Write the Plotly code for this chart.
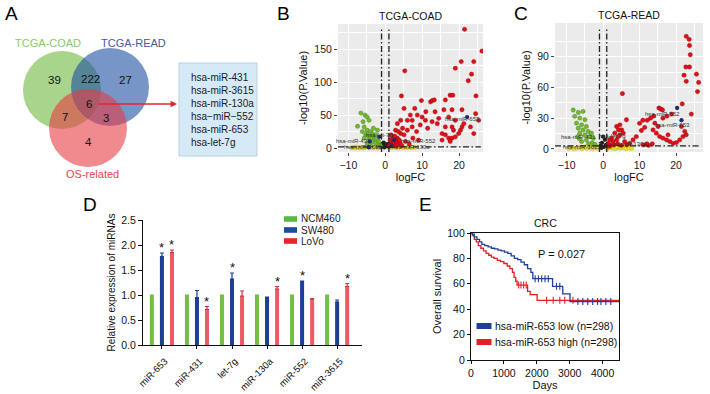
import plotly.graph_objects as go

W, H = 710, 394
FONT = "Arial, 'Liberation Sans', sans-serif"


def px(x):
    return x / W


def py(y):
    return 1 - y / H


# ---------------- Panel A data ----------------
venn_sets = ["TCGA-COAD", "TCGA-READ", "OS-related"]
venn_region_labels = ["39", "222", "27", "6", "7", "3", "4"]
common_mirnas = ["hsa-miR-431", "hsa-miR-3615", "hsa-miR-130a",
                 "hsa\u2212miR\u2212552", "hsa-miR-653", "hsa-let-7g"]

# ---------------- Panel B data (TCGA-COAD volcano) ----------------
b_up_x = [21.5, 26.2, 24.0, 20.6, 19.0, 5.3, 23.4, 22.5, 24.6, 17.6, 18.3, 16.3, 12.3, 12.7, 13.3, 9.8, 4.4, 5.1,
          3.3, 4.2, 6.0, 7.3, 8.7, 10.0, 10.9, 12.7, 14.1, 7.3, 6.0, 2.8, 4.2, 5.1, 2.4, 3.3, 1.5, 1.9, 2.8, 1.1,
          1.2, 1.5, 1.8, 2.0, 2.2, 2.5, 2.8, 3.0, 1.3, 2.0, 3.5, 4.0, 4.5, 3.8, 2.6, 1.6, 5.5, 6.5, 7.5, 8.5,
          9.0, 4.7, 3.6, 9.5, 11.5, 13.5, 11.0, 8.0, 14.5, 6.8,
          15.4, 16.3, 17.2, 18.1, 19.0, 19.9, 20.4, 20.8, 21.3, 19.0, 18.1, 16.3, 17.2, 15.9, 18.1, 20.8, 18.5,
          15.4, 17.6, 23.1, 24.0, 25.3, 24.5]
b_up_y = [180, 147, 131, 131, 121, 117, 112, 102, 79, 80, 80, 73, 70, 72, 73, 72, 79, 60,
          37, 42, 42, 42, 50, 47, 42, 40, 37, 32, 27, 27, 22, 20, 17, 15, 10, 7, 12, 4.5,
          3, 5, 8, 4, 10, 6, 3, 9, 12, 14, 5, 8, 4, 12, 18, 20, 10, 6, 15, 25,
          12, 30, 25, 35, 30, 55, 55, 60, 45, 50,
          22, 20, 15, 15, 17, 22, 27, 32, 37, 42, 32, 32, 47, 58, 58, 58, 27,
          12, 10, 32, 22, 42, 52]
b_down_x = [-6.6, -5.5, -4.9, -4.4, -7.5, -5.7, -4.9, -4.0, -5.3, -4.4, -3.5, -3.0, -2.6, -5.7, -4.4,
            -3.5, -2.6, -4.9, -4.0, -2.1, -2.1, -6.0, -3.2, -1.5, -1.8, -2.4, -3.8, -5.0, -6.2, -1.3]
b_down_y = [53, 50, 47, 42, 33, 32, 27, 25, 20, 17, 22, 15, 20, 15, 12,
            10, 7, 7, 5, 27, 12, 40, 30, 5, 10, 14, 18, 22, 25, 3]
b_ns_x = [-9.0, -8.5, -8.0, -7.2, -6.5, -6.0, -5.5, -5.0, -4.2, -3.8, -3.2, -2.5, -1.8, -1.2, -7.8, -6.8,
          -2.0, 1.2, 2.0, 3.0, 4.0, 5.0, 6.0, 7.0, 8.0, 3.5]
b_ns_y = [0.5, 1.0, 0.3, 0.8, 1.2, 0.4, 0.9, 1.5, 0.6, 1.1, 0.3, 1.4, 0.7, 1.0, 1.6, 0.2,
          0.2, 0.5, 1.2, 0.8, 1.4, 0.3, 1.0, 0.6, 0.9, 0.2]
b_mid_x = [-0.8, -0.5, -0.2, 0.3, 0.6, 0.9, -0.4, 0.1]
b_mid_y = [2, 4, 1, 3, 6, 2, 8, 5]
b_lab_x = [22.2, 2.4, 1.7, -4.2, -1.6, -4.5]
b_lab_y = [47, 12, 3, 10, 17, 1.2]
b_text = ["hsa-miR-653", "hsa-miR-552", "hsa-miR-130a", "hsa-miR-431", "hsa-let-7g", "hsa-miR-3615"]
b_text_x = [21.0, 8.9, 6.9, -8.7, -1.5, -6.0]
b_text_y = [44, 11, 1, 11, 20, 1]
b_cut_fc = [-1, 1]
b_cut_p = 1.8

# ---------------- Panel C data (TCGA-READ volcano) ----------------
c_up_x = [22.8, 23.6, 23.7, 23.9, 22.7, 23.7, 22.2, 25.6, 22.8, 26.2, 25.9, 5.3, 21.7, 15.3, 15.8, 16.3,
          24.2, 18.8, 17.5, 16.4, 13.9, 13.0, 12.1, 10.9, 10.0, 11.4, 10.5,
          13.7, 14.6, 15.5, 16.4, 17.4, 18.3, 19.2, 20.1, 21.0, 21.9, 22.8, 22.4, 21.5, 17.8, 15.1, 14.2,
          3.7, 4.6, 4.2, 5.1, 3.2, 4.6, 5.5, 2.3, 3.7, 2.7, 1.4, 6.4, 5.9, 7.3, 8.2, 9.1, 4.2, 1.8,
          2.0, 3.0, 1.5, 4.0, 5.0, 6.5, 11.0, 12.5, 13.5, 12.0]
c_up_y = [110, 107, 101, 92, 80, 80, 72, 73, 66, 65, 56, 54, 44, 40, 39, 38,
          34, 34, 32, 30, 32, 30, 28, 28, 25, 21, 18,
          18.6, 15.4, 12.1, 10.5, 8.8, 7.2, 5.5, 6.2, 8.8, 12.1, 13.8, 17, 21.9, 13.8, 21.9, 25.2,
          21.9, 23.5, 18.6, 18.6, 15.4, 13.8, 15.4, 10.5, 8.8, 7.2, 5.5, 28.5, 7.2, 5.5, 8.8, 12.1, 12.1, 8.8,
          3, 4, 2.5, 5, 3.5, 4, 4, 3.5, 5, 5]
c_down_x = [-8.2, -6.8, -5.5, -7.8, -6.4, -5.0, -7.3, -5.9, -4.6, -6.8, -5.5, -4.1, -6.4, -5.0, -3.7, -3.2,
            -2.7, -4.6, -5.9, -3.0, -2.2, -4.0, -6.5, -7.0]
c_down_y = [38, 35.6, 36.6, 31.8, 30.1, 28.5, 25.2, 23.5, 21.9, 20.2, 18.6, 17.0, 15.4, 13.8, 12.1, 15.4,
            10.5, 8.8, 7.2, 6, 4.5, 5, 10, 12]
c_ns_x = [-9.5, -8.8, -8.0, -7.3, -6.5, -5.8, -5.0, -4.3, -3.6, -3.0, -2.3, -1.6, -1.2, 1.2, 1.8, 2.5,
          3.3, 4.0, 4.8, 5.5, 6.3, 7.0, 7.8, -4.8, -2.8, 2.2, 3.8, 5.2]
c_ns_y = [0.5, 1.2, 0.3, 0.9, 1.5, 0.4, 1.1, 0.6, 1.8, 0.3, 1.3, 0.8, 2.0, 0.5, 1.6, 0.9,
          0.3, 1.4, 0.7, 1.9, 0.4, 1.0, 0.6, 2.2, 2.4, 2.5, 2.1, 1.7]
c_mid_x = [-0.7, -0.3, 0.2, 0.5, 0.8, -0.5, 0.0]
c_mid_y = [3, 6, 2, 9, 4, 1, 12]
c_lab_x = [20.3, 21.5]
c_lab_y = [40, 28]
c_text = ["hsa-miR-552", "hsa-miR-653", "hsa-miR-431", "hsa-let-7g", "hsa-miR-3615", "hsa-miR-130a"]
c_text_x = [16.4, 18.9, -6.8, 2.7, -5.8, 6.8]
c_text_y = [34, 23, 11.4, 12.7, 2, 5]
c_cut_fc = [-1, 1]
c_cut_p = 3

# ---------------- Panel D data ----------------
mirna_labels = ["miR-653", "miR-431", "let-7g", "miR-130a", "miR-552", "miR-3615"]
ncm460 = [1.0, 1.0, 1.0, 1.0, 1.0, 1.0]
ncm460_err = [0.0, 0.0, 0.0, 0.0, 0.0, 0.0]
sw480 = [1.77, 0.95, 1.32, 0.95, 1.26, 0.86]
sw480_err = [0.07, 0.14, 0.12, 0.01, 0.02, 0.04]
lovo = [1.85, 0.71, 0.98, 1.12, 0.92, 1.17]
lovo_err = [0.05, 0.06, 0.10, 0.05, 0.01, 0.06]
sw480_sig = [True, False, True, False, True, False]
lovo_sig = [True, True, False, True, False, True]
d_ticks = [0.0, 0.5, 1.0, 1.5, 2.0, 2.5]

# ---------------- Panel E data (Kaplan-Meier) ----------------
low_t = [0, 40, 100, 180, 260, 330, 420, 520, 620, 720, 820, 920, 1020, 1120, 1220, 1320, 1420, 1520,
         1620, 1720, 1820, 1880, 2480, 2790, 3010, 4500]
low_s = [100, 99, 97, 95, 93, 91, 90, 89, 88, 87.5, 86.5, 86, 85, 84, 82, 80, 79, 77,
         75, 72, 69, 64, 58, 52, 46, 46]
high_t = [0, 40, 100, 160, 220, 300, 380, 460, 540, 620, 700, 800, 900, 1000, 1100, 1180, 1260, 1310,
          1360, 1400, 1720, 1800, 2010, 4500]
high_s = [100, 98, 95, 93, 90, 88, 86, 84, 82.5, 81, 80, 78.5, 77.5, 76, 74, 72, 69, 65,
          62, 59, 54, 51.5, 47, 47]
low_cens_t = [1950, 2050, 2150, 2250, 2350, 2600, 2700, 3250, 3400, 3550, 3700, 3850, 3950, 4100, 4250]
low_cens_s = [64, 64, 64, 64, 64, 58, 58, 46, 46, 46, 46, 46, 46, 46, 46]
high_cens_t = [1450, 1520, 1600, 1680, 2300, 2500, 2700, 2850, 3100]
high_cens_s = [59, 59, 59, 59, 47, 47, 47, 47, 47]
e_legend = ["hsa-miR-653 low (n=298)", "hsa-miR-653 high (n=298)"]
p_text = "P = 0.027"

# colours
RED = "#e3101a"
GREEN = "#74b734"
YELLOW = "#e8e32a"
BAR_G = "#71bf44"
BAR_B = "#1c3f95"
BAR_R = "#ee5a63"
KM_B = "#1f3f9c"
KM_R = "#e41f26"

fig = go.Figure()

# placeholder trace for Venn axes
fig.add_trace(go.Scatter(x=[0], y=[0], mode="markers", marker=dict(opacity=0),
                         xaxis="x", yaxis="y", showlegend=False, hoverinfo="skip"))


def volcano(xa, ya, up_x, up_y, dn_x, dn_y, ns_x, ns_y, mid_x, mid_y, lab_x, lab_y):
    mk = dict(size=4.3)
    fig.add_trace(go.Scatter(x=ns_x, y=ns_y, mode="markers", xaxis=xa, yaxis=ya, showlegend=False,
                             marker=dict(color=YELLOW, line=dict(color="#b5b000", width=0.4), **mk)))
    fig.add_trace(go.Scatter(x=mid_x, y=mid_y, mode="markers", xaxis=xa, yaxis=ya, showlegend=False,
                             marker=dict(color="#222222", **mk)))
    fig.add_trace(go.Scatter(x=dn_x, y=dn_y, mode="markers", xaxis=xa, yaxis=ya, showlegend=False,
                             marker=dict(color=GREEN, line=dict(color="#3f7d16", width=0.4), **mk)))
    fig.add_trace(go.Scatter(x=up_x, y=up_y, mode="markers", xaxis=xa, yaxis=ya, showlegend=False,
                             marker=dict(color=RED, line=dict(color="#8a0000", width=0.4), **mk)))
    fig.add_trace(go.Scatter(x=lab_x, y=lab_y, mode="markers", xaxis=xa, yaxis=ya, showlegend=False,
                             marker=dict(color="#1c2c6e", **mk)))


volcano("x2", "y2", b_up_x, b_up_y, b_down_x, b_down_y, b_ns_x, b_ns_y, b_mid_x, b_mid_y, b_lab_x, b_lab_y)
volcano("x3", "y3", c_up_x, c_up_y, c_down_x, c_down_y, c_ns_x, c_ns_y, c_mid_x, c_mid_y, c_lab_x, c_lab_y)

# Panel D bars
for name, vals, errs, col, ecol in [("NCM460", ncm460, ncm460_err, BAR_G, BAR_G),
                                     ("SW480", sw480, sw480_err, BAR_B, BAR_B),
                                     ("LoVo", lovo, lovo_err, BAR_R, "#c8323b")]:
    fig.add_trace(go.Bar(x=mirna_labels, y=vals, name=name, marker=dict(color=col, line=dict(width=0)),
                         error_y=dict(type="data", array=errs, arrayminus=[0] * len(errs), symmetric=False,
                                      thickness=1.2, width=2, color=ecol),
                         xaxis="x4", yaxis="y4", showlegend=False))

# Panel E KM curves
fig.add_trace(go.Scatter(x=high_t, y=high_s, mode="lines", line=dict(color=KM_R, width=1.3, shape="hv"),
                         xaxis="x5", yaxis="y5", showlegend=False, name=e_legend[1]))
fig.add_trace(go.Scatter(x=high_cens_t, y=high_cens_s, mode="markers", xaxis="x5", yaxis="y5",
                         marker=dict(symbol="line-ns", size=5, color=KM_R, line=dict(color=KM_R, width=1.1)),
                         showlegend=False))
fig.add_trace(go.Scatter(x=low_t, y=low_s, mode="lines", line=dict(color=KM_B, width=1.3, shape="hv"),
                         xaxis="x5", yaxis="y5", showlegend=False, name=e_legend[0]))
fig.add_trace(go.Scatter(x=low_cens_t, y=low_cens_s, mode="markers", xaxis="x5", yaxis="y5",
                         marker=dict(symbol="line-ns", size=5, color=KM_B, line=dict(color=KM_B, width=1.1)),
                         showlegend=False))

shapes = []
annotations = []

# ---------- Panel A drawing ----------
venn_circles = [(62, 90, 39, "rgba(112,183,62,0.6)"),
                (110, 87, 39, "rgba(30,78,163,0.6)"),
                (88, 128, 39, "rgba(230,60,68,0.6)")]
for cx, cy, r, col in venn_circles:
    shapes.append(dict(type="circle", xref="x", yref="y", x0=cx - r, x1=cx + r, y0=cy - r, y1=cy + r,
                       fillcolor=col, line=dict(width=0), layer="above"))
venn_label_pos = [(48, 43, "#8cc768"), (133, 43, "#3d5c9c"), (92, 174, "#e5454f")]
for (x, y, c), t in zip(venn_label_pos, venn_sets):
    annotations.append(dict(xref="x", yref="y", x=x, y=y, text=t, showarrow=False,
                            font=dict(family=FONT, size=11, color=c)))
venn_num_pos = [(54, 80), (90, 79), (125, 80), (89, 104), (65, 117), (106, 118), (88, 142)]
for (x, y), t in zip(venn_num_pos, venn_region_labels):
    annotations.append(dict(xref="x", yref="y", x=x, y=y, text=t, showarrow=False,
                            font=dict(family=FONT, size=11.5, color="#111")))
# arrow
annotations.append(dict(xref="x", yref="y", axref="x", ayref="y", x=177, y=104, ax=97, ay=104, text="",
                        showarrow=True, arrowhead=2, arrowsize=1, arrowwidth=1.3, arrowcolor="#e3262f"))
# box with miRNAs
shapes.append(dict(type="rect", xref="x", yref="y", x0=179, x1=257, y0=63, y1=156,
                   fillcolor="#d6e9f6", line=dict(color="#b9d0e2", width=1), layer="below"))
annotations.append(dict(xref="x", yref="y", x=189, y=109.5, xanchor="left", yanchor="middle", align="left",
                        text="<br>".join(common_mirnas), showarrow=False,
                        font=dict(family=FONT, size=10, color="#1a1a1a")))

# ---------- Panels B & C decorations ----------
for xa, ya, cut_fc, cut_p, title, texts, tx, ty in [
        ("x2", "y2", b_cut_fc, b_cut_p, "TCGA-COAD", b_text, b_text_x, b_text_y),
        ("x3", "y3", c_cut_fc, c_cut_p, "TCGA-READ", c_text, c_text_x, c_text_y)]:
    shapes.append(dict(type="rect", xref=f"{xa} domain", yref=f"{ya} domain", x0=0, x1=1, y0=0, y1=1,
                       fillcolor="#ebebeb", line=dict(width=0), layer="below"))
    for v in cut_fc:
        shapes.append(dict(type="line", xref=xa, yref=f"{ya} domain", x0=v, x1=v, y0=0, y1=0.96,
                           line=dict(color="#222", width=1.3, dash="6px,2.5px,1.5px,2.5px")))
    shapes.append(dict(type="line", xref=f"{xa} domain", yref=ya, x0=0, x1=0.985, y0=cut_p, y1=cut_p,
                       line=dict(color="#222", width=1.3, dash="6px,2.5px,1.5px,2.5px")))
    annotations.append(dict(xref=f"{xa} domain", yref=f"{ya} domain", x=0.5, y=1, yanchor="bottom",
                            yshift=0, text=title, showarrow=False,
                            font=dict(family=FONT, size=10.5, color="#111")))
    for t, x, y in zip(texts, tx, ty):
        annotations.append(dict(xref=xa, yref=ya, x=x, y=y, text=t, showarrow=False,
                                font=dict(family=FONT, size=6, color="#333")))

# ---------- Panel D stars & legend ----------
for i, lab in enumerate(mirna_labels):
    if sw480_sig[i]:
        annotations.append(dict(xref="x4", yref="y4", x=lab, y=sw480[i] + sw480_err[i], xshift=0, yshift=-4,
                                yanchor="bottom", text="*", showarrow=False,
                                font=dict(family=FONT, size=13, color="#111")))
    if lovo_sig[i]:
        annotations.append(dict(xref="x4", yref="y4", x=lab, y=lovo[i] + lovo_err[i], xshift=10, yshift=-4,
                                yanchor="bottom", text="*", showarrow=False,
                                font=dict(family=FONT, size=13, color="#111")))
for (name, col), yc in zip([("NCM460", "#5cb846"), ("SW480", "#1f4aa0"), ("LoVo", "#e8242d")], [219, 230, 241]):
    shapes.append(dict(type="rect", xref="paper", yref="paper", x0=px(284), x1=px(297),
                       y0=py(yc + 2.8), y1=py(yc - 2.8), fillcolor=col, line=dict(width=0)))
    annotations.append(dict(xref="paper", yref="paper", x=px(299), y=py(yc), xanchor="left",
                            yanchor="middle", text=name, showarrow=False,
                            font=dict(family=FONT, size=10, color="#222")))

# ---------- Panel E annotations & legend ----------
annotations.append(dict(xref="x5 domain", yref="y5 domain", x=0.5, y=1, yanchor="bottom", yshift=2,
                        text="CRC", showarrow=False, font=dict(family=FONT, size=10.5, color="#111")))
annotations.append(dict(xref="paper", yref="paper", x=px(587), y=py(253.5), text=p_text, showarrow=False,
                        font=dict(family=FONT, size=11, color="#111")))
for (t, col), yc in zip(zip(e_legend, [KM_B, KM_R]), [326, 342]):
    shapes.append(dict(type="rect", xref="paper", yref="paper", x0=px(476.5), x1=px(491.5),
                       y0=py(yc + 3), y1=py(yc - 3), fillcolor=col, line=dict(width=0)))
    annotations.append(dict(xref="paper", yref="paper", x=px(492.5), y=py(yc), xanchor="left",
                            yanchor="middle", text=t, showarrow=False,
                            font=dict(family=FONT, size=10.5, color="#111")))

# ---------- panel letters ----------
for letter, x, y in [("A", 11, 13), ("B", 283, 13), ("C", 521, 13), ("D", 90, 205), ("E", 425, 205)]:
    annotations.append(dict(xref="paper", yref="paper", x=px(x), y=py(y), text=letter, showarrow=False,
                            xanchor="center", yanchor="middle",
                            font=dict(family=FONT, size=19, color="#000")))

tickfont = dict(family=FONT, size=10.5, color="#1a1a1a")
titlefont = dict(family=FONT, size=11, color="#111")

common_volc_x = dict(showgrid=True, gridcolor="white", gridwidth=1.1, zeroline=False, showline=False,
                     ticks="outside", ticklen=3, tickcolor="#444", tickfont=tickfont,
                     tickvals=[-10, 0, 10, 20], automargin=False,
                     minor=dict(tickvals=[-5, 5, 15, 25], showgrid=True, gridcolor="white", gridwidth=0.6))

fig.update_layout(
    width=W, height=H,
    margin=dict(l=0, r=0, t=0, b=0),
    paper_bgcolor="white", plot_bgcolor="rgba(0,0,0,0)",
    showlegend=False,
    barmode="group", bargap=0.14, bargroupgap=0.6,
    font=dict(family=FONT),
    # Venn canvas
    xaxis=dict(domain=[0, px(265)], range=[0, 265], visible=False, fixedrange=True),
    yaxis=dict(domain=[py(190), 1], range=[190, 0], visible=False, fixedrange=True),
    # B
    xaxis2=dict(domain=[px(338), px(483)], range=[-12.8, 26.5], anchor="y2",
                title=dict(text="logFC", font=titlefont, standoff=0), **common_volc_x),
    yaxis2=dict(domain=[py(152), py(24)], range=[-6, 188], anchor="x2",
                showgrid=True, gridcolor="white", gridwidth=1.1, zeroline=False, showline=False,
                ticks="outside", ticklen=3, tickcolor="#444", tickfont=tickfont, automargin=False,
                tickvals=[0, 50, 100, 150],
                minor=dict(tickvals=[25, 75, 125, 175], showgrid=True, gridcolor="white", gridwidth=0.6),
                title=dict(text="-log10(P.Value)", font=titlefont, standoff=4)),
    # C
    xaxis3=dict(domain=[px(555), px(703)], range=[-13.2, 27.4], anchor="y3",
                title=dict(text="logFC", font=titlefont, standoff=0), **common_volc_x),
    yaxis3=dict(domain=[py(152), py(23)], range=[-3, 123], anchor="x3",
                showgrid=True, gridcolor="white", gridwidth=1.1, zeroline=False, showline=False,
                ticks="outside", ticklen=3, tickcolor="#444", tickfont=tickfont, automargin=False,
                tickvals=[0, 30, 60, 90],
                minor=dict(tickvals=[15, 45, 75, 105], showgrid=True, gridcolor="white", gridwidth=0.6),
                title=dict(text="-log10(P.Value)", font=titlefont, standoff=4)),
    # D
    xaxis4=dict(domain=[px(143), px(362)], type="category", range=[-0.54, 5.71], anchor="y4",
                showline=True, linecolor="#111", linewidth=1.2, ticks="outside", ticklen=3,
                tickcolor="#111", tickangle=-45, tickfont=dict(family=FONT, size=9.5, color="#111"),
                ticklabelstandoff=3, ticklabelshift=3,
                showgrid=False, zeroline=False, automargin=False),
    yaxis4=dict(domain=[py(345), py(220)], range=[0, 2.5], anchor="x4", tickvals=d_ticks,
                tickformat=".1f", showline=True, linecolor="#111", linewidth=1.2, ticks="outside",
                ticklen=4, tickcolor="#111", tickfont=dict(family=FONT, size=10.5, color="#111"),
                showgrid=False, zeroline=False, automargin=False,
                title=dict(text="Relative expression of miRNAs", font=dict(family=FONT, size=10, color="#111"),
                           standoff=3)),
    # E
    xaxis5=dict(domain=[px(471), px(619)], range=[0, 4500], anchor="y5",
                tickvals=[0, 1000, 2000, 3000, 4000], showline=True, mirror=True, linecolor="#111",
                linewidth=1.2, ticks="outside", ticklen=3, tickcolor="#111",
                tickfont=dict(family=FONT, size=10.5, color="#111"), showgrid=False, zeroline=False,
                automargin=False, title=dict(text="Days", font=titlefont, standoff=0)),
    yaxis5=dict(domain=[py(360), py(233)], range=[0, 100], anchor="x5",
                tickvals=[0, 20, 40, 60, 80, 100], showline=True, mirror=True, linecolor="#111",
                linewidth=1.2, ticks="outside", ticklen=3, tickcolor="#111",
                tickfont=dict(family=FONT, size=10.5, color="#111"), showgrid=False, zeroline=False,
                automargin=False, title=dict(text="Overall survival", font=titlefont, standoff=3)),
    shapes=shapes,
    annotations=annotations,
)

fig.write_html("out.html", config={"displayModeBar": False},
               post_script="document.body.style.margin='0';document.body.style.overflow='hidden';")
